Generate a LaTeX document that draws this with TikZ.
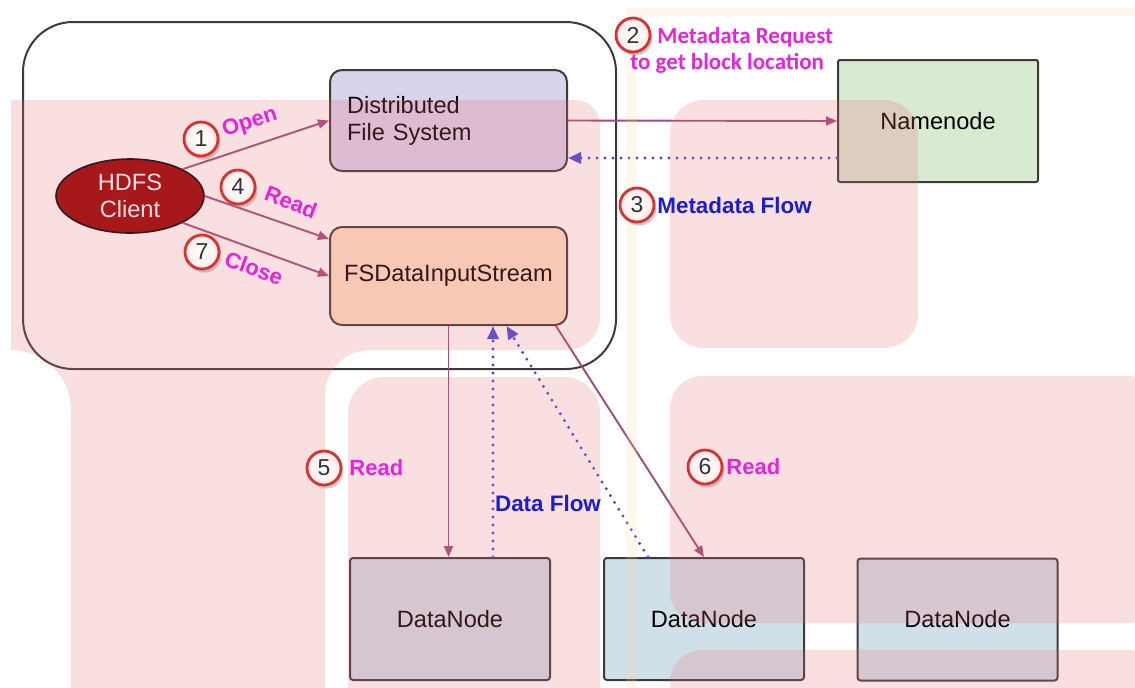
\documentclass[tikz,border=0pt]{standalone}
\usepackage{fontspec}
\setmainfont{Liberation Sans}
\newfontfamily\calibfont{Carlito}
\usetikzlibrary{arrows.meta,shapes.geometric,shadows}

\definecolor{lavender}{HTML}{DAD3EC}
\definecolor{peach}{HTML}{FBE2C6}
\definecolor{mint}{HTML}{D9EAD3}
\definecolor{paleblue}{HTML}{D0E0E8}
\definecolor{clientred}{HTML}{940000}
\definecolor{mauve}{HTML}{A34B7C}
\definecolor{flowblue}{HTML}{4545E0}
\definecolor{labelblue}{HTML}{1C1CD0}
\definecolor{labelpink}{HTML}{E524E0}
\definecolor{overlaypink}{RGB}{235,110,120}
\definecolor{overlaycream}{HTML}{F9D9A0}
\definecolor{ringred}{HTML}{D63333}
\definecolor{edgegray}{HTML}{3F3A3A}

\tikzset{
  boxfont/.style={font=\fontsize{11.8}{13.5}\selectfont},
  component/.style={draw=edgegray, line width=1pt, rounded corners=6pt,
    minimum width=118.5pt, boxfont},
  server/.style={draw=edgegray, line width=1pt, rounded corners=1.5pt,
    fill=paleblue, minimum width=100pt, minimum height=61pt, boxfont},
  call/.style={draw=mauve, line width=0.95pt, -{Triangle[length=5.5pt,width=4.5pt]}},
  flow/.style={draw=flowblue, line width=1.6pt, line cap=round,
    dash pattern=on 0pt off 4pt, -{Triangle[length=6.5pt,width=5.5pt]}},
  badge/.style={circle, draw=ringred, line width=1.4pt, inner color=white,
    outer color=red!8, minimum size=17pt, inner sep=0pt, text=black!80,
    font=\fontsize{11.5}{12}\selectfont,
    drop shadow={shadow xshift=1.2pt, shadow yshift=-1.8pt, opacity=0.4}},
  steplabel/.style={font=\bfseries\fontsize{11}{12}\selectfont, text=labelpink, inner sep=0.5pt},
  reqlabel/.style={font=\calibfont\bfseries\fontsize{11.5}{12}\selectfont, text=labelpink, inner sep=1pt},
  flowlabel/.style={font=\bfseries\fontsize{11.2}{12}\selectfont, text=labelblue, inner sep=1pt},
  pinkov/.style={fill=overlaypink, fill opacity=0.22},
  creamov/.style={fill=overlaycream, fill opacity=0.2},
}

\newcommand{\numbadge}[3]{\node[badge] (#1) at (#2) {#3};}

\begin{document}
\begin{tikzpicture}[x=0.5pt,y=-0.5pt]
        \useasboundingbox (0,0) rectangle (1135,687);
        \fill[white] (0,0) rectangle (1135,687);

        % client side
        \draw[edgegray, line width=1pt, rounded corners=25pt] (23,22) rectangle (616,369);
        \node[ellipse, draw=black, line width=0.8pt, fill=clientred, text=white,
          minimum width=74pt, minimum height=37pt, inner sep=0pt, align=center, boxfont]
          (client) at (130,196) {HDFS\\Client};
        \node[component, fill=lavender, minimum height=50.5pt, text width=101.5pt,
          align=left, inner xsep=8.5pt] (dfs) at (448.5,120.5) {Distributed\\File System};
        \node[component, fill=peach, minimum height=49pt] (fsdis) at (448.5,276) {FSDataInputStream};

        % servers
        \node[server, fill=mint, rounded corners=1pt] (nn) at (938,121) {Namenode};
        \node[server] (dn1) at (450,619) {DataNode};
        \node[server] (dn2) at (704,619) {DataNode};
        \node[server] (dn3) at (957.5,619.5) {DataNode};

        % calls
        \draw[call] (client.27) -- (dfs.west);
        \draw[call] (client.east) -- ([yshift=18.5pt]fsdis.west);
        \draw[call] (client.-27) -- (fsdis.west);
        \draw[call] (dfs.east) -- (nn.west);
        \draw[call] (fsdis.south) -- (fsdis.south |- dn1.north);
        \draw[call] ([xshift=-6pt]fsdis.south east) -- (dn2.north);

        % flows back
        \coordinate (nnback) at ([yshift=-18.5pt]nn.west);
        \coordinate (dnup) at ([xshift=21.5pt]dn1.north);
        \draw[flow] (nnback) -- (nnback -| dfs.east);
        \draw[flow] (dnup) -- (dnup |- fsdis.south);
        \draw[flow] ([xshift=-28pt]dn2.north) -- ([xshift=29pt]fsdis.south);

        % tinted background
        \begin{scope}
          \clip (0,0) rectangle (1135,687);
          \fill[pinkov] (11,100) -- (575,100) arc[start angle=-90,end angle=0,radius=25]
            -- (600,317) arc[start angle=0,end angle=90,radius=33]
            -- (370,350) arc[start angle=-90,end angle=-180,radius=45]
            -- (325,720) -- (71,720) -- (71,410) arc[start angle=0,end angle=-90,radius=60]
            -- cycle;
          \fill[pinkov, rounded corners=18pt] (348,377) rectangle (600,720);
          \fill[pinkov, rounded corners=17pt] (670,100) rectangle (918,348);
          \fill[pinkov, rounded corners=16pt] (670,376) rectangle (1160,623);
          \fill[pinkov, rounded corners=16pt] (670,650) rectangle (1160,740);
          \fill[creamov] (626,8) rectangle (637,700);
          \fill[creamov] (637,8) rectangle (1140,16);
        \end{scope}

        % labels
        \node[steplabel, rotate=18] (openlbl) at (250,123) {Open};
        \node[steplabel, rotate=-21] (readlbl) at (291,202) {Read};
        \node[steplabel, rotate=-20] (closelbl) at (254,268) {Close};
        \node[steplabel, anchor=west] (read5lbl) at (348,468) {Read};
        \node[steplabel, anchor=west] (read6lbl) at (725,467) {Read};
        \node[reqlabel, anchor=west] (reqtop) at (655,37) {Metadata Request};
        \node[reqlabel, anchor=west] (reqbot) at (628,63) {to get block location};
        \node[flowlabel, anchor=west] (metaflow) at (655,205) {Metadata Flow};
        \node[flowlabel] (dataflow) at (548,503) {Data Flow};

        % steps
        \numbadge{s1}{201,139}{1}
        \numbadge{s2}{633,35}{2}
        \numbadge{s3}{637,205}{3}
        \numbadge{s4}{238,187}{4}
        \numbadge{s5}{324,468}{5}
        \numbadge{s6}{705,467}{6}
        \numbadge{s7}{202,252}{7}
\end{tikzpicture}
\end{document}
